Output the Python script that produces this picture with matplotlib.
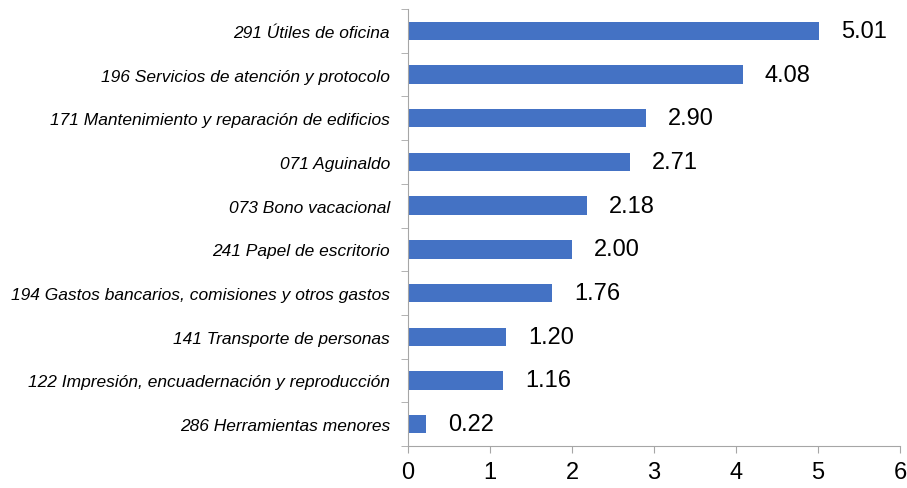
import matplotlib
matplotlib.use('Agg')
import matplotlib.pyplot as plt

# datos de la gráfica (de abajo hacia arriba)
partidas = [
    '286 Herramientas menores',
    '122 Impresión, encuadernación y reproducción',
    '141 Transporte de personas',
    '194 Gastos bancarios, comisiones y otros gastos',
    '241 Papel de escritorio',
    '073 Bono vacacional',
    '071 Aguinaldo',
    '171 Mantenimiento y reparación de edificios',
    '196 Servicios de atención y protocolo',
    '291 Útiles de oficina',
]
montos = [0.22, 1.16, 1.20, 1.76, 2.00, 2.18, 2.71, 2.90, 4.08, 5.01]
x_ticks = [0, 1, 2, 3, 4, 5, 6]

plt.rcParams['font.family'] = ['Liberation Sans', 'DejaVu Sans']

fig = plt.figure(figsize=(9.07, 4.89), dpi=100)
ax = fig.add_axes([408 / 907, 1 - 447 / 489, 492 / 907, 437 / 489])

ypos = range(len(partidas))
ax.barh(ypos, montos, height=0.42, color='#4472C4')
for y, v in zip(ypos, montos):
    ax.text(v + 0.27, y, f'{v:.2f}', va='center', ha='left', fontsize=17)

ax.set_xlim(0, 6)
ax.set_ylim(-0.5, len(partidas) - 0.5)
ax.set_xticks(x_ticks)
ax.set_xticklabels([str(t) for t in x_ticks], fontsize=17)
ax.set_yticks(list(ypos))
ax.set_yticklabels(partidas, fontsize=12.5, style='italic')
ax.set_yticks([i - 0.5 for i in range(len(partidas) + 1)], minor=True)
ax.tick_params(axis='y', which='major', length=0, pad=13)
ax.tick_params(axis='y', which='minor', length=5, color='#A6A6A6')
ax.tick_params(axis='x', length=5, color='#A6A6A6', pad=6)

for s in ['top', 'right']:
    ax.spines[s].set_visible(False)
for s in ['left', 'bottom']:
    ax.spines[s].set_color('#A6A6A6')

fig.savefig('out.png', dpi=100)
